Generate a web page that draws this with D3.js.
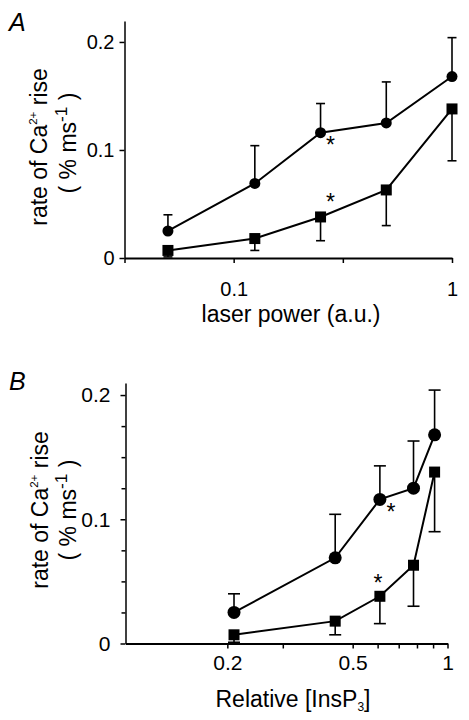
<!DOCTYPE html>
<html>
<head>
<meta charset="utf-8">
<script src="https://cdn.jsdelivr.net/npm/d3@7"></script>
<style>
  html, body { margin: 0; padding: 0; background: #fff; }
  svg { display: block; font-family: "Liberation Sans", Arial, Helvetica, sans-serif; }
</style>
</head>
<body>
<svg id="chart" width="469" height="720"></svg>
<script>
// ---- data ----
const laserPower   = [0.05, 0.125, 0.25, 0.5, 1];        // panel A x (a.u.)
const relInsP3     = [0.21, 0.44, 0.61, 0.78, 0.91];     // panel B x
const circleMean   = [0.025, 0.069, 0.116, 0.125, 0.168]; // rate of Ca2+ rise (% ms-1)
const circleUpper  = [0.040, 0.104, 0.143, 0.163, 0.204];
const squareMean   = [0.007, 0.018, 0.038, 0.063, 0.138];
const squareLower  = [0.001, 0.007, 0.016, 0.030, 0.090];
const starIndex    = 2;                                   // point marked with * in both series
const yTicksMajor  = [0, 0.1, 0.2];
const yTicksMinorB = [0.025, 0.05, 0.075, 0.125, 0.15, 0.175];
const xTicksA      = [Math.pow(10, -1.5), 0.1, Math.pow(10, -0.5), 1];
const xLabelsA     = {0.1: "0.1", 1: "1"};
const xTicksB      = [0.2, 0.3, 0.5, 0.6, 0.7, 0.8, 0.9, 1];
const xLabelsB     = {0.2: "0.2", 0.5: "0.5", 1: "1"};

const svg = d3.select("#chart");

function yFmt(d) { return d === 0 ? "0" : d3.format(".1f")(d); }

function panel(cfg) {
  const g = svg.append("g");
  const x = cfg.x, y = cfg.y;

  // x axis
  const xa = d3.axisBottom(x).tickValues(cfg.xTicks).tickSize(5).tickSizeOuter(0)
    .tickPadding(cfg.xPad).tickFormat(d => {
      const k = Object.keys(cfg.xLabels).find(v => Math.abs(+v - d) < 1e-9);
      return k !== undefined ? cfg.xLabels[k] : "";
    });
  const gx = g.append("g").attr("transform", `translate(0,${y(0)})`).call(xa);
  gx.select(".domain").attr("stroke-width", 2);
  gx.selectAll(".tick line").attr("stroke-width", 1.5);
  gx.selectAll("text").attr("font-size", cfg.tickFont).attr("fill", "#000")
    .attr("font-family", "Liberation Sans, Arial, sans-serif");

  // y axis
  const ya = d3.axisLeft(y).tickValues(cfg.yTicks).tickSize(5).tickSizeOuter(0)
    .tickPadding(cfg.yPad).tickFormat(yFmt);
  const gy = g.append("g").attr("transform", `translate(${x.range()[0]},0)`).call(ya);
  gy.select(".domain").attr("stroke-width", 1.5);
  gy.selectAll(".tick line").attr("stroke-width", 1.5);
  gy.selectAll("text").attr("font-size", cfg.tickFont).attr("fill", "#000")
    .attr("font-family", "Liberation Sans, Arial, sans-serif");
  if (cfg.yMinor) {
    g.append("g").attr("transform", `translate(${x.range()[0]},0)`)
      .call(d3.axisLeft(y).tickValues(cfg.yMinor).tickSize(4).tickFormat(""))
      .call(s => s.select(".domain").remove())
      .selectAll(".tick line").attr("stroke-width", 1.5);
  }

  const xs = cfg.xData;
  // error bars
  const cap = cfg.cap / 2;
  function errBars(mean, bound) {
    const eb = g.append("g").attr("stroke", "#000").attr("stroke-width", 1.6);
    xs.forEach((xv, i) => {
      const px = x(xv);
      eb.append("line").attr("x1", px).attr("x2", px).attr("y1", y(mean[i])).attr("y2", y(bound[i]));
      eb.append("line").attr("x1", px - cap).attr("x2", px + cap).attr("y1", y(bound[i])).attr("y2", y(bound[i]));
    });
  }
  errBars(circleMean, circleUpper);
  errBars(squareMean, squareLower);

  // lines
  const line = d3.line().x(d => x(d[0])).y(d => y(d[1]));
  g.append("path").datum(xs.map((v, i) => [v, circleMean[i]]))
    .attr("d", line).attr("fill", "none").attr("stroke", "#000").attr("stroke-width", 2);
  g.append("path").datum(xs.map((v, i) => [v, squareMean[i]]))
    .attr("d", line).attr("fill", "none").attr("stroke", "#000").attr("stroke-width", 2);

  // markers
  g.selectAll("circle.m").data(xs).enter().append("circle")
    .attr("cx", d => x(d)).attr("cy", (d, i) => y(circleMean[i])).attr("r", cfg.r).attr("fill", "#000");
  const s = cfg.sq;
  g.selectAll("rect.m").data(xs).enter().append("rect")
    .attr("x", d => x(d) - s / 2).attr("y", (d, i) => y(squareMean[i]) - s / 2)
    .attr("width", s).attr("height", s).attr("fill", "#000");

  // asterisks
  const sx = x(xs[starIndex]);
  g.append("text").attr("x", sx + cfg.starC[0]).attr("y", y(circleMean[starIndex]) + cfg.starC[1])
    .attr("text-anchor", "middle").attr("font-size", 23).text("*");
  g.append("text").attr("x", sx + cfg.starS[0]).attr("y", y(squareMean[starIndex]) + cfg.starS[1])
    .attr("text-anchor", "middle").attr("font-size", 23).text("*");

  // panel letter
  svg.append("text").attr("x", 9).attr("y", cfg.letterY).attr("font-size", 25)
    .attr("font-style", "italic").text(cfg.letter);

  // y title
  const t1 = svg.append("text").attr("transform", `translate(${cfg.yT1[0]},${cfg.yT1[1]}) rotate(-90)`)
    .attr("text-anchor", "middle").attr("font-size", cfg.titleFont);
  t1.append("tspan").text("rate of Ca");
  t1.append("tspan").attr("font-size", cfg.titleFont * 0.5).attr("dy", -cfg.titleFont * 0.45).text("2+");
  t1.append("tspan").attr("dy", cfg.titleFont * 0.45).text(" rise");
  const t2 = svg.append("text").attr("transform", `translate(${cfg.yT2[0]},${cfg.yT2[1]}) rotate(-90)`)
    .attr("text-anchor", "middle").attr("font-size", cfg.titleFont);
  t2.append("tspan").text("( % ms");
  t2.append("tspan").attr("font-size", cfg.titleFont * 0.75).attr("dy", -cfg.titleFont * 0.4).text("-1");
  t2.append("tspan").attr("dy", cfg.titleFont * 0.4).text(" )");

  // x title
  const xt = svg.append("text").attr("x", cfg.xT[0]).attr("y", cfg.xT[1])
    .attr("text-anchor", "middle").attr("font-size", cfg.titleFont);
  cfg.xTitle(xt);
}

// Panel A
panel({
  x: d3.scaleLog().domain([Math.pow(10, -1.5), 1]).range([124.5, 452]),
  y: d3.scaleLinear().domain([0, 0.2194]).range([258, 21]),
  xTicks: xTicksA, xLabels: xLabelsA, xData: laserPower,
  yTicks: yTicksMajor, yMinor: null,
  xPad: 19, yPad: 5, tickFont: 20, titleFont: 23,
  cap: 9, r: 5.5, sq: 11,
  starC: [10, 20], starS: [10, -7],
  letter: "A", letterY: 31,
  yT1: [47, 147], yT2: [76, 143], xT: [291, 322],
  xTitle: t => t.text("laser power (a.u.)")
});

// Panel B
panel({
  x: d3.scaleLog().domain([0.095, 1]).range([125.5, 447.5]),
  y: d3.scaleLinear().domain([0, 0.2097]).range([643.5, 383]),
  xTicks: xTicksB, xLabels: xLabelsB, xData: relInsP3,
  yTicks: yTicksMajor, yMinor: yTicksMinorB,
  xPad: 7, yPad: 10, tickFont: 21, titleFont: 23,
  cap: 12, r: 6.5, sq: 11,
  starC: [11, 21], starS: [-2, -5],
  letter: "B", letterY: 390,
  yT1: [48, 510], yT2: [76, 510], xT: [293, 707],
  xTitle: t => {
    t.append("tspan").text("Relative [InsP");
    t.append("tspan").attr("font-size", 12).attr("dy", 4).text("3");
    t.append("tspan").attr("dy", -4).text("]");
  }
});
</script>
</body>
</html>
